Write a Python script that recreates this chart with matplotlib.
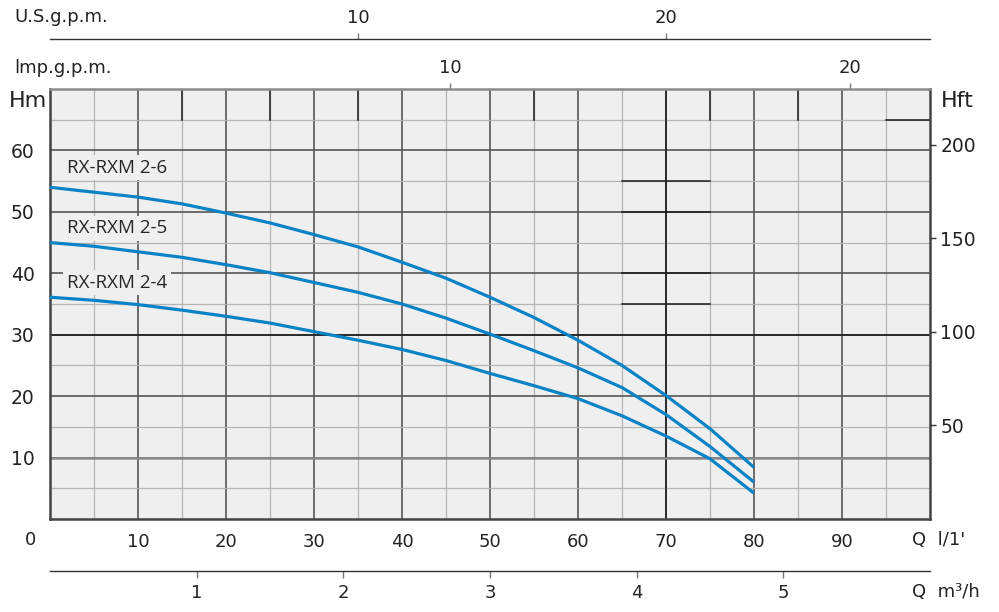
import matplotlib
matplotlib.use("Agg")
import matplotlib.pyplot as plt
from matplotlib.ticker import MultipleLocator

# flow in l/min and head in m
q_lpm = [0, 5, 10, 15, 20, 25, 30, 35, 40, 45, 50, 55, 60, 65, 70, 75, 80]
h_2_6 = [54.0, 53.2, 52.4, 51.3, 49.8, 48.2, 46.3, 44.3, 41.8, 39.2, 36.1, 32.8, 29.1, 25.0, 20.1, 14.7, 8.4]
h_2_5 = [45.0, 44.4, 43.5, 42.6, 41.4, 40.1, 38.5, 36.9, 35.0, 32.7, 30.1, 27.4, 24.6, 21.4, 17.0, 11.8, 6.0]
h_2_4 = [36.1, 35.6, 34.9, 34.0, 33.0, 31.9, 30.5, 29.1, 27.6, 25.8, 23.7, 21.7, 19.6, 16.8, 13.5, 9.8, 4.2]
models = ["RX-RXM 2-6", "RX-RXM 2-5", "RX-RXM 2-4"]
label_h = [57.2, 47.3, 38.5]

hm_ticks = [10, 20, 30, 40, 50, 60]
hft_ticks = [50, 100, 150, 200]
lpm_ticks = [10, 20, 30, 40, 50, 60, 70, 80, 90]
imp_ticks = [10, 20]
us_ticks = [10, 20]
m3h_ticks = [1, 2, 3, 4, 5]

FT_PER_M = 3.2808
LPM_PER_IMP = 4.546
LPM_PER_US = 3.5   # as the top scale is drawn on the sheet

# darker grid pieces that show up on the original print
dark_v = [(15, 65, 70), (25, 65, 70), (35, 65, 70), (55, 65, 70), (75, 65, 70), (85, 65, 70), (70, 0, 70)]
dark_h = [(30, 0, 100), (55, 65, 75), (50, 65, 75), (40, 65, 75), (35, 65, 75), (65, 95, 100)]

W, H = 999, 612
fig = plt.figure(figsize=(W / 100, H / 100), dpi=100)
ax = fig.add_axes([50 / W, 1 - 519 / H, 880 / W, 430 / H])

ax.set_xlim(0, 100)
ax.set_ylim(0, 70)
ax.set_facecolor("#efefef")
ax.set_xticks(lpm_ticks)
ax.set_yticks(hm_ticks)
ax.xaxis.set_minor_locator(MultipleLocator(5))
ax.yaxis.set_minor_locator(MultipleLocator(5))
ax.set_axisbelow(True)
ax.grid(which="major", color="#555555", lw=1.2)
ax.grid(which="minor", color="#b5b5b5", lw=0.9)
ax.tick_params(which="both", length=0)
ax.tick_params(axis="y", labelsize=13.5, pad=11, labelcolor="#222")
ax.tick_params(axis="x", labelsize=13, pad=10, labelcolor="#222")

for x, y0, y1 in dark_v:
    ax.plot([x, x], [y0, y1], color="#1a1a1a", lw=1.1, zorder=1)
for y, x0, x1 in dark_h:
    ax.plot([x0, x1], [y, y], color="#1a1a1a", lw=1.1, zorder=1)
ax.axhline(10, color="#8c8c8c", lw=1.8, zorder=1)

for s in ["left", "bottom", "right"]:
    ax.spines[s].set_color("#444")
    ax.spines[s].set_linewidth(1.8)
ax.spines["top"].set_color("#8c8c8c")
ax.spines["top"].set_linewidth(1.8)

for h in [h_2_6, h_2_5, h_2_4]:
    ax.plot(q_lpm, h, color="#0a83c6", lw=2.3, solid_capstyle="butt",
            solid_joinstyle="round", zorder=3)

for name, y in zip(models, label_h):
    ax.text(1.9, y, name, fontsize=13.5, family="Open Sans", color="#262626",
            va="center", ha="left", zorder=4,
            bbox=dict(boxstyle="square,pad=0.2", fc="#efefef", ec="none"))

# feet on the right
ax2 = ax.twinx()
ax2.set_ylim(0, 70 * FT_PER_M)
ax2.set_yticks(hft_ticks)
ax2.tick_params(direction="out", length=4.5, width=1, color="#333", pad=3,
                labelsize=13.5, labelcolor="#222")
for s in ax2.spines.values():
    s.set_visible(False)

# imperial gpm along the top edge
imp = ax.secondary_xaxis("top", functions=(lambda q: q / LPM_PER_IMP, lambda g: g * LPM_PER_IMP))
imp.set_xticks(imp_ticks)
imp.tick_params(direction="out", length=4.5, width=1, color="#777", pad=4,
                labelsize=13, labelcolor="#222")
imp.spines["top"].set_visible(False)

# US gpm on its own line above
us = ax.secondary_xaxis((519 - 39) / 430, functions=(lambda q: q / LPM_PER_US, lambda g: g * LPM_PER_US))
us.set_xticks(us_ticks)
us.tick_params(direction="out", length=4.5, width=1, color="#777", pad=4,
               labelsize=13, labelcolor="#222")
us.spines["top"].set_color("#333")
us.spines["top"].set_linewidth(1)

# m3/h below
m3 = ax.secondary_xaxis(-(571 - 519) / 430, functions=(lambda q: q * 0.06, lambda m: m / 0.06))
m3.set_xticks(m3h_ticks)
m3.tick_params(direction="out", length=5, width=1, color="#777", pad=4,
               labelsize=13, labelcolor="#222")
m3.spines["bottom"].set_color("#333")
m3.spines["bottom"].set_linewidth(1)


def ftext(x, y, s, **kw):
    fig.text(x / W, 1 - y / H, s, va="center", color="#222", **kw)


ftext(14, 17, "U.S.g.p.m.", fontsize=13)
ftext(14, 68, "lmp.g.p.m.", fontsize=13)
ftext(9, 101, "Hm", fontsize=16)
ftext(941, 101, "Hft", fontsize=16)
ftext(30, 540, "0", fontsize=13, ha="center")
ftext(912, 540, "Q  l/1'", fontsize=13)
ftext(912, 592, "Q  m³/h", fontsize=13)

fig.savefig("out.png", dpi=100, facecolor="white")
